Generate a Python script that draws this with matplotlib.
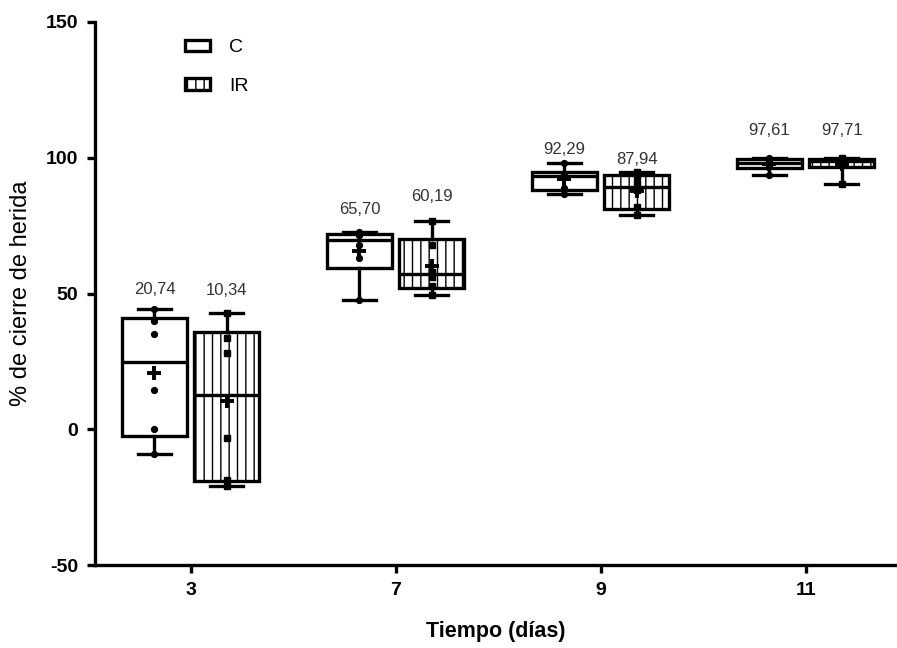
import numpy as np
import matplotlib
matplotlib.use('Agg')
import matplotlib.pyplot as plt
from matplotlib.patches import Patch

plt.rcParams['font.family'] = ['Liberation Sans', 'DejaVu Sans']
plt.rcParams['hatch.linewidth'] = 1.0
plt.rcParams['axes.unicode_minus'] = False

days = ['3', '7', '9', '11']
groups = ['C', 'IR']
c_values = [
    [44.4, 39.8, 35.0, 14.5, 0.0, -9.3],
    [72.5, 71.7, 71.5, 67.7, 63.2, 47.6],
    [98.0, 93.8, 93.5, 93.2, 88.8, 86.5],
    [99.9, 99.3, 98.3, 97.6, 97.0, 93.6],
]
ir_values = [
    [42.8, 33.7, 28.2, -3.2, -18.6, -20.9],
    [76.8, 67.9, 58.1, 56.2, 52.7, 49.4],
    [94.9, 93.2, 90.8, 88.0, 81.8, 78.9],
    [100.0, 99.3, 98.9, 98.8, 98.8, 90.5],
]
c_labels = ['20,74', '65,70', '92,29', '97,61']
ir_labels = ['10,34', '60,19', '87,94', '97,71']
c_label_y = [51.3, 80.8, 103.1, 110.1]
ir_label_y = [51.0, 85.6, 99.2, 110.1]

LW = 2.4
fig = plt.figure(figsize=(8.97, 6.48), dpi=100)
ax = fig.add_axes([95 / 897, 83 / 648, 802 / 897, 543 / 648])


def stats_for(values):
    out = []
    for v in values:
        a = np.array(v, dtype=float)
        q1, med, q3 = np.percentile(a, [25, 50, 75], method='weibull')
        out.append(dict(med=med, q1=q1, q3=q3, whislo=a.min(), whishi=a.max(),
                        mean=a.mean(), fliers=[]))
    return out


pos = np.arange(len(days))
offset = 0.176
width = 0.317

for vals, sign, hatch, marker in [(c_values, -1, None, 'o'), (ir_values, 1, '||', 's')]:
    p = pos + sign * offset
    st = stats_for(vals)
    ax.bxp(st, positions=p, widths=width, patch_artist=True,
           showmeans=False, showfliers=False,
           boxprops=dict(facecolor='white', edgecolor='black', linewidth=LW, hatch=hatch),
           medianprops=dict(color='black', linewidth=LW),
           whiskerprops=dict(color='black', linewidth=LW),
           capprops=dict(color='black', linewidth=LW),
           manage_ticks=False, zorder=2)
    for xi, v, s in zip(p, vals, st):
        ax.plot([xi] * len(v), v, linestyle='none', marker=marker, markersize=4.2,
                color='black', zorder=4)
        ax.plot([xi], [s['mean']], linestyle='none', marker='+', markersize=10,
                markeredgewidth=2.8, color='black', zorder=5)

for i in range(len(days)):
    ax.text(pos[i] - offset, c_label_y[i], c_labels[i], ha='center', va='center',
            fontsize=12, color='#333333')
    ax.text(pos[i] + offset, ir_label_y[i], ir_labels[i], ha='center', va='center',
            fontsize=12, color='#333333')

ax.set_xlim(-0.466, 3.446)
ax.set_ylim(-50, 150)
ax.set_yticks([-50, 0, 50, 100, 150])
ax.set_xticks(pos)
ax.set_xticklabels(days)
for lab in ax.get_xticklabels() + ax.get_yticklabels():
    lab.set_fontweight('bold')
ax.tick_params(axis='both', length=6, width=LW, labelsize=14, direction='out', pad=6)
for side in ['top', 'right']:
    ax.spines[side].set_visible(False)
for side in ['left', 'bottom']:
    ax.spines[side].set_linewidth(LW)

ax.set_xlabel('Tiempo (días)', fontsize=15.5, fontweight='bold', labelpad=16)
ax.set_ylabel('% de cierre de herida', fontsize=17, labelpad=10)

handles = [Patch(facecolor='white', edgecolor='black', linewidth=LW, label='C'),
           Patch(facecolor='white', edgecolor='black', linewidth=LW, hatch='||', label='IR')]
ax.legend(handles=handles, loc='upper left', bbox_to_anchor=(0.09, 1.0), frameon=False,
          fontsize=14, handlelength=1.3, handleheight=0.5, labelspacing=1.1,
          handletextpad=1.0)

fig.savefig('out.png', dpi=100)
